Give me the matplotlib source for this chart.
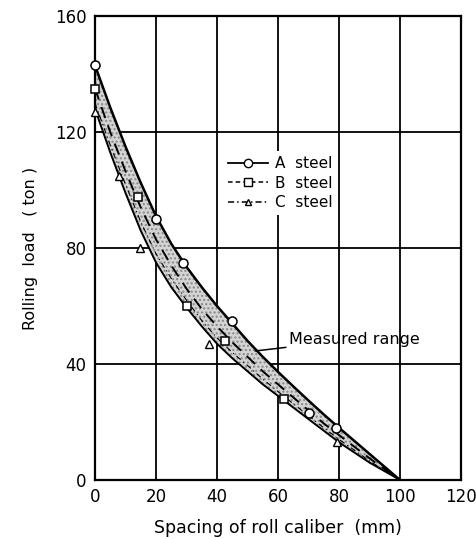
import matplotlib
matplotlib.use("Agg")
import matplotlib.pyplot as plt
from matplotlib.lines import Line2D

# measured points
a_x = [0, 20, 29, 45, 70, 79]
a_y = [143, 90, 75, 55, 23, 18]
b_x = [0, 14, 30, 42.6, 62]
b_y = [135, 97.5, 60, 48, 28]
c_x = [0, 8, 14.8, 37.4, 79.3]
c_y = [127, 105, 80, 47, 13]

# curves (every 5 mm)
curve_x = [0, 5, 10, 15, 20, 25, 30, 35, 40, 45, 50,
           55, 60, 65, 70, 75, 80, 85, 90, 95, 100]
upper_y = [143, 128.5, 115, 102.5, 91, 81.5, 73.5, 66.5, 60, 54, 48,
           42.5, 37.3, 32.3, 27.4, 22.6, 18, 13.5, 9, 4.5, 0]
mid_y = [135, 120, 106.5, 94, 83, 74, 66, 59, 53, 47.5, 42.5,
         37.5, 33, 28.5, 24, 19.5, 15.5, 11.5, 7.5, 3.7, 0]
dashdot_y = [130, 115.5, 102, 89, 78, 69.5, 62, 55, 49, 44, 39.5,
             34.8, 30.5, 26.3, 22.2, 18, 14, 10.3, 6.6, 3.2, 0]
lower_y = [128, 113, 99, 86, 75, 66.5, 59.5, 53, 47, 42, 37.5,
           33, 29, 25, 21, 17, 13, 9.5, 6, 3, 0]

xticks = [0, 20, 40, 60, 80, 100, 120]
yticks = [0, 40, 80, 120, 160]

plt.rcParams['font.family'] = ['DejaVu Sans']

fig = plt.figure(figsize=(4.76, 5.39), dpi=100)
ax = fig.add_axes([0.1996, 0.1095, 0.7689, 0.8605])

ax.fill_between(curve_x, lower_y, upper_y, facecolor='#d4d4d4', edgecolor='#888888',
                hatch='....', linewidth=0, zorder=2)
ax.plot(curve_x, upper_y, color='k', lw=1.8, zorder=3)
ax.plot(curve_x, lower_y, color='k', lw=1.4, zorder=3)
ax.plot(curve_x, mid_y, color='k', lw=1.4, ls=(0, (6, 4)), zorder=3)
ax.plot(curve_x, dashdot_y, color='k', lw=0.8, ls=(0, (5, 3, 1, 3)), zorder=3)

ax.plot(a_x, a_y, 'o', ms=6.5, mfc='white', mec='k', mew=1.1, zorder=4, clip_on=False)
ax.plot(b_x, b_y, 's', ms=6, mfc='white', mec='k', mew=1.1, zorder=4, clip_on=False)
ax.plot(c_x, c_y, '^', ms=5.5, mfc='white', mec='k', mew=1.0, zorder=4, clip_on=False)

ax.set_xlim(0, 120)
ax.set_ylim(0, 160)
ax.set_xticks(xticks)
ax.set_yticks(yticks)
ax.tick_params(length=0, labelsize=12, pad=6)
ax.grid(True, color='k', lw=1.3, zorder=1)
ax.set_axisbelow(True)
for s in ax.spines.values():
    s.set_linewidth(1.6)

ax.set_xlabel('Spacing of roll caliber  (mm)', fontsize=12.5, labelpad=9)
ax.set_ylabel('Rolling  load   ( ton )', fontsize=11.5, labelpad=12)

handles = [
    Line2D([], [], color='k', lw=1.3, marker='o', ms=6, mfc='white', mec='k'),
    Line2D([], [], color='k', lw=1.1, ls=(0, (3, 2)), marker='s', ms=5.5, mfc='white', mec='k'),
    Line2D([], [], color='k', lw=1.1, ls=(0, (4, 2, 1, 2)), marker='^', ms=4.5, mfc='white', mec='k'),
]
leg = ax.legend(handles, ['A  steel', 'B  steel', 'C  steel'], loc='upper left',
                bbox_to_anchor=(0.33, 0.725), fontsize=11, frameon=True,
                handlelength=2.6, handletextpad=0.5, labelspacing=0.3, borderpad=0.3)
leg.get_frame().set_edgecolor('none')
leg.get_frame().set_facecolor('white')
leg.get_frame().set_alpha(1)
leg.set_zorder(5)

ax.annotate('Measured range', xy=(52.5, 44.5), xytext=(63.5, 48.5), fontsize=11.5,
            va='center', ha='left',
            arrowprops=dict(arrowstyle='-', color='k', lw=1.1, shrinkA=0, shrinkB=0))

fig.savefig('out.png', dpi=100)
